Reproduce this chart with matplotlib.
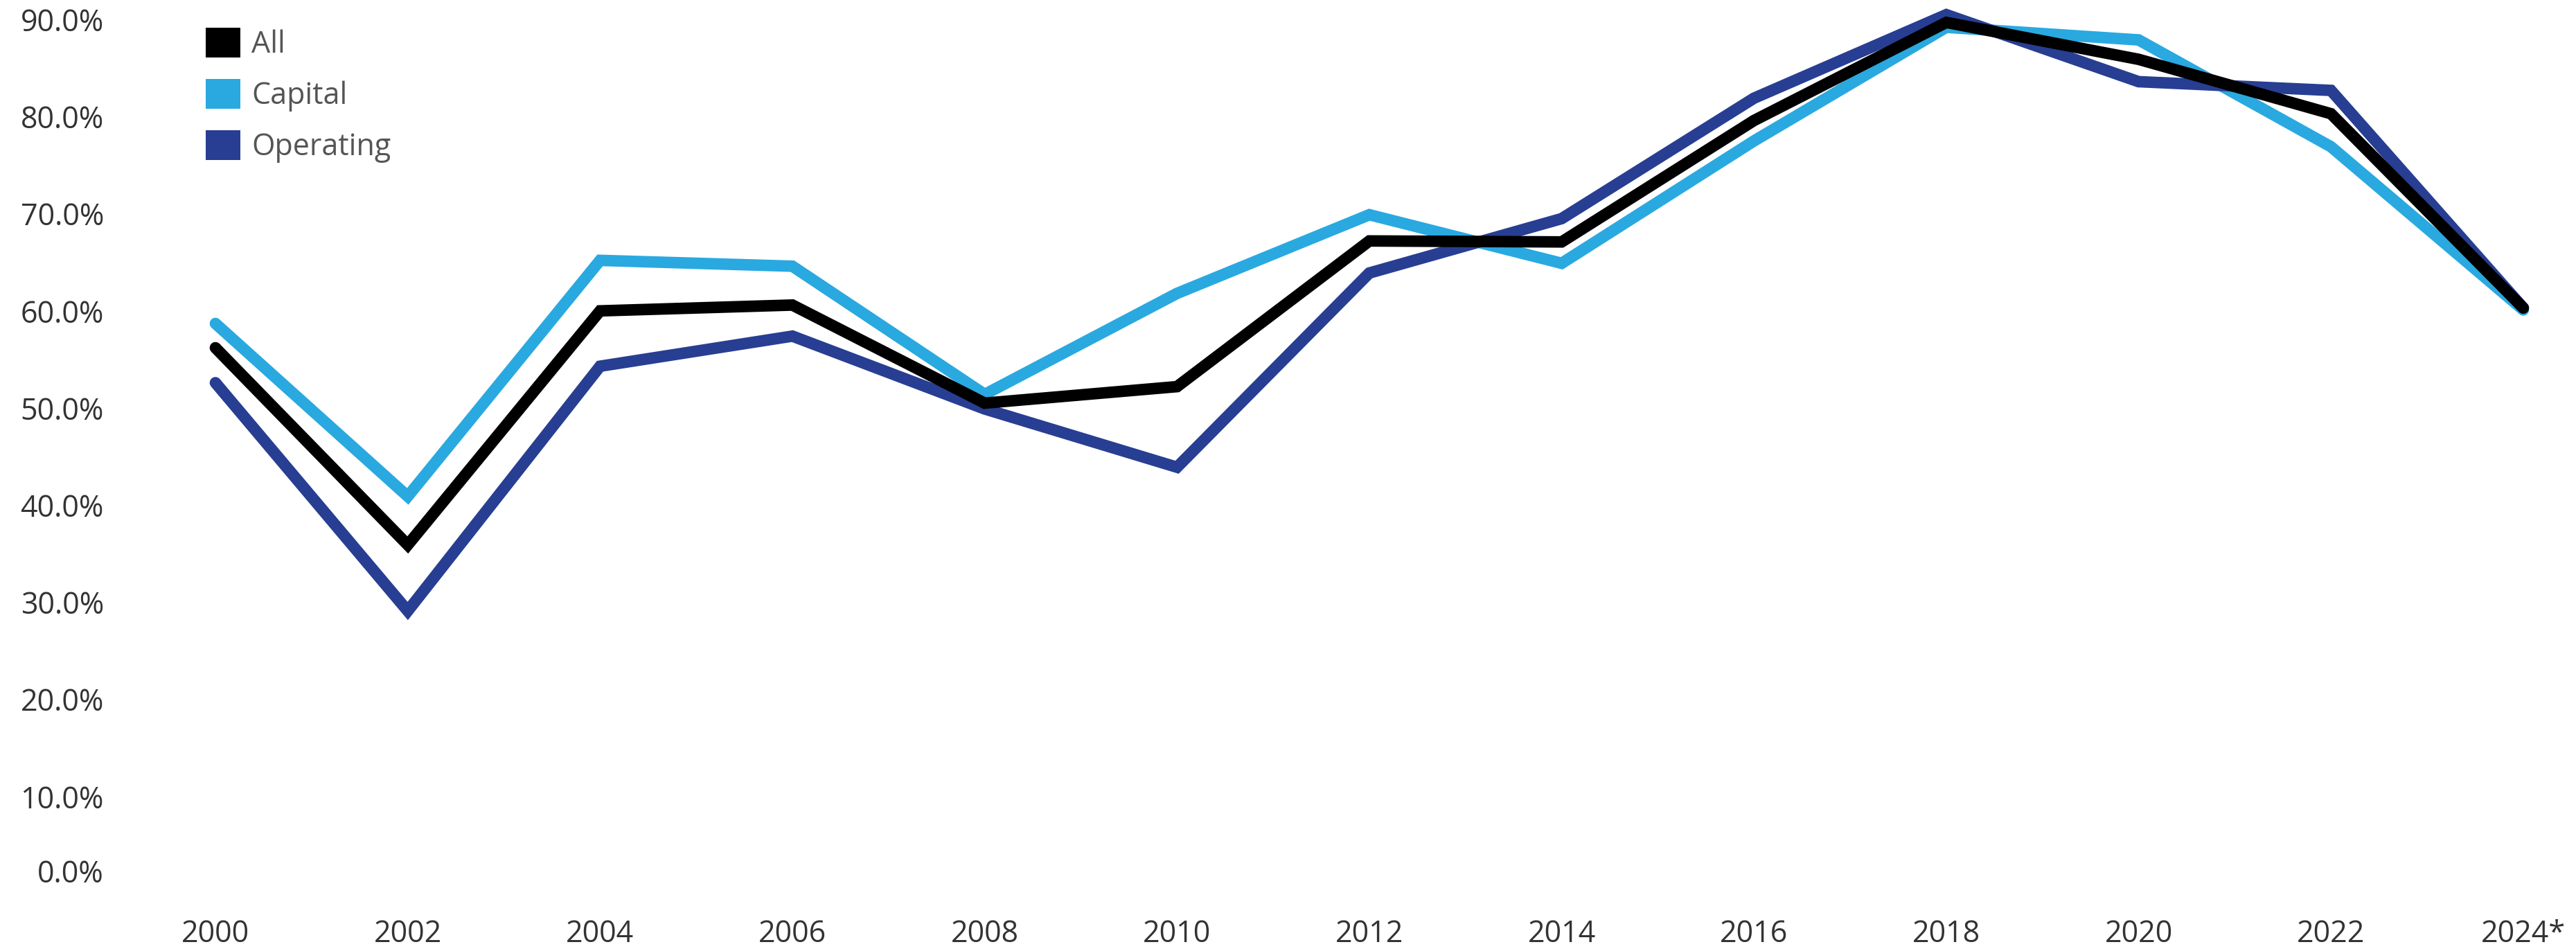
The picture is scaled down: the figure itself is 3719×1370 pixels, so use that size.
import matplotlib
matplotlib.use("Agg")
import matplotlib.pyplot as plt
from matplotlib.patches import Patch
from matplotlib.transforms import ScaledTranslation

plt.rcParams['font.family'] = ['Open Sans', 'DejaVu Sans']

# data (percent)
years = [2000, 2002, 2004, 2006, 2008, 2010, 2012, 2014, 2016, 2018, 2020, 2022, 2024]
year_labels = ['2000', '2002', '2004', '2006', '2008', '2010', '2012',
               '2014', '2016', '2018', '2020', '2022', '2024*']
all_pct = [56.2, 35.9, 60.0, 60.6, 50.5, 52.2, 67.2, 67.1, 79.6, 89.7, 85.9, 80.3, 60.3]
capital_pct = [58.7, 40.9, 65.2, 64.6, 51.4, 61.8, 69.9, 64.9, 77.5, 89.2, 87.9, 76.9, 60.1]
operating_pct = [52.6, 29.1, 54.3, 57.4, 49.9, 43.9, 63.9, 69.5, 81.9, 90.5, 83.6, 82.7, 60.3]
y_ticks = [0, 10, 20, 30, 40, 50, 60, 70, 80, 90]

c_all = '#000000'
c_cap = '#29A9E0'
c_op = '#273E92'

fig = plt.figure(figsize=(37.19, 13.70), dpi=100)
ax = fig.add_axes([0.0463, 0.0584, 0.9519, 0.9415])

lw = 12
style = dict(linewidth=lw, solid_joinstyle='miter', solid_capstyle='round')
ax.plot(years, capital_pct, color=c_cap, **style)
ax.plot(years, operating_pct, color=c_op, **style)
ax.plot(years, all_pct, color=c_all, **style)

ax.set_xlim(1999, 2024.5)
ax.set_ylim(0, 92)

ax.set_xticks(years)
ax.set_xticklabels(year_labels)
ax.set_yticks(y_ticks)
ax.set_yticklabels(['%.1f%%' % v for v in y_ticks])

for s in ax.spines.values():
    s.set_visible(False)
ax.tick_params(axis='x', length=0, pad=26, labelsize=31, labelcolor='#333333')
ax.tick_params(axis='y', length=0, pad=16, labelsize=31, labelcolor='#333333')

# the 0.0% label sits a little higher than its tick in the original
lab0 = ax.yaxis.get_major_ticks()[0].label1
lab0.set_transform(lab0.get_transform() + ScaledTranslation(0, 0.33, fig.dpi_scale_trans))

handles = [Patch(facecolor=c_all, edgecolor='none', label='All'),
           Patch(facecolor=c_cap, edgecolor='none', label='Capital'),
           Patch(facecolor=c_op, edgecolor='none', label='Operating')]
leg = fig.legend(handles=handles, loc='upper left', bbox_to_anchor=(297 / 3719, 1 - 40 / 1370),
                 frameon=False, fontsize=31, handlelength=1.16, handleheight=1.16,
                 handletextpad=0.37, labelspacing=0.63, borderpad=0, borderaxespad=0)
for t in leg.get_texts():
    t.set_color('#555555')

fig.savefig('out.png', dpi=100)
